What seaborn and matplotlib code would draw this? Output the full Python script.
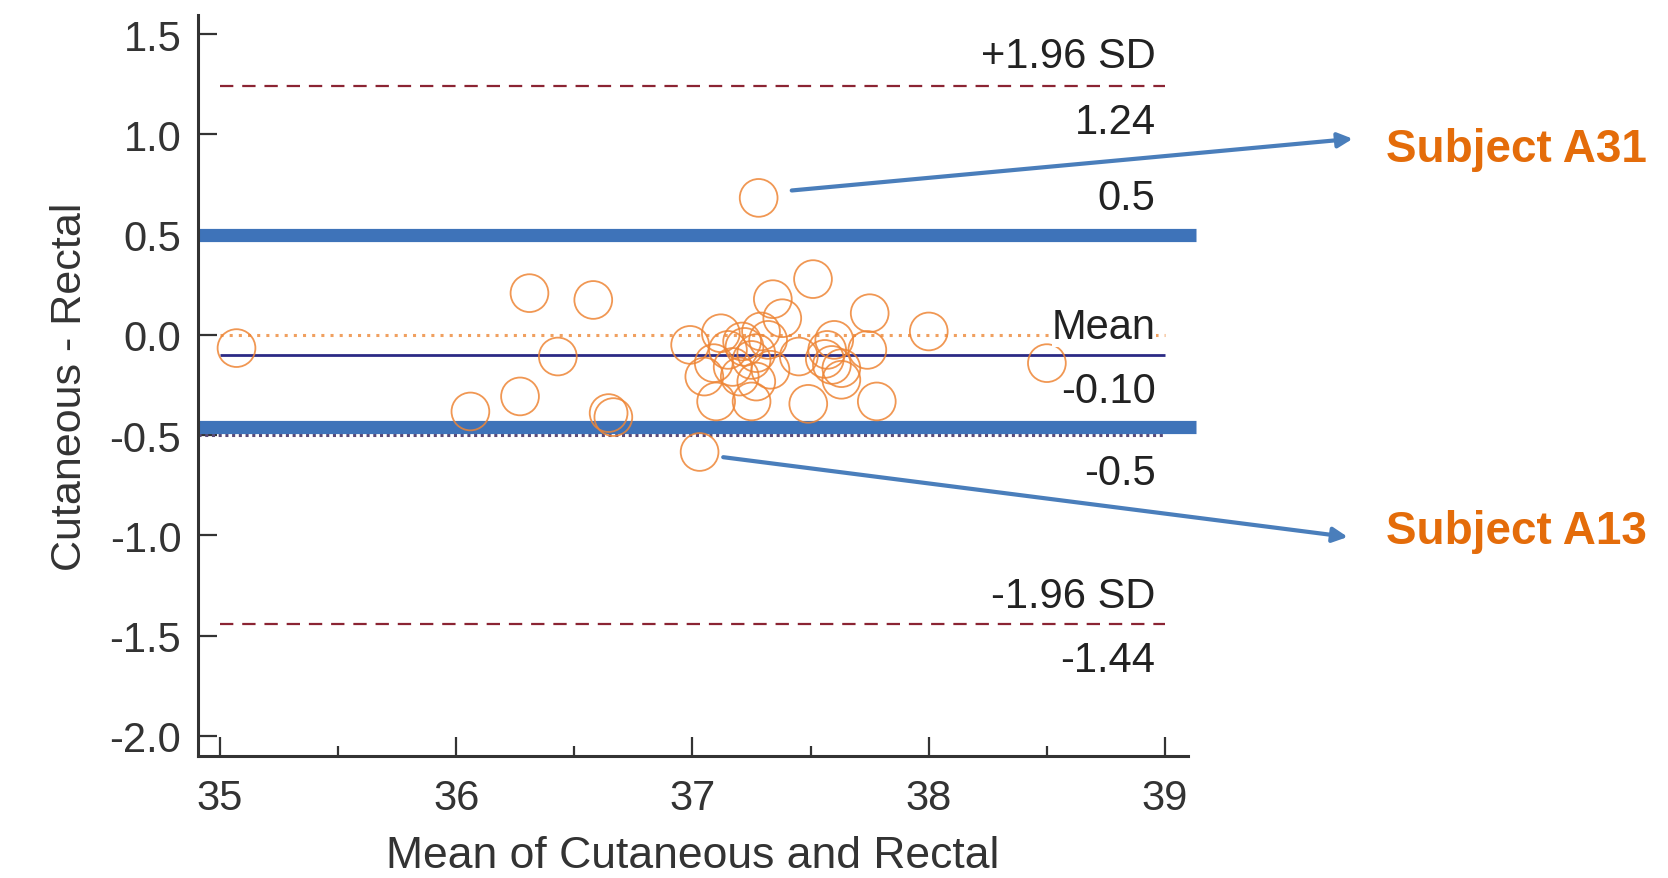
import numpy as np
import matplotlib
matplotlib.use("Agg")
import matplotlib.pyplot as plt
import seaborn as sns

# Bland-Altman data: mean of the two methods vs difference
mean_vals = [35.07, 36.06, 36.27, 36.31, 36.43, 36.58, 36.645, 36.665,
             36.99, 37.05, 37.09, 37.12, 37.15, 37.21, 37.29, 37.32,
             37.25, 37.27, 37.20, 37.27, 37.33, 37.10, 37.25, 37.49,
             37.78, 37.45, 37.57, 37.59, 37.63, 37.63, 37.74, 37.60,
             37.34, 37.38, 37.51, 37.75, 38.00, 38.50, 37.17, 37.22,
             37.56, 37.28, 37.03]
diff_vals = [-0.066, -0.382, -0.307, 0.208, -0.108, 0.174, -0.39, -0.41,
             -0.05, -0.208, -0.141, 0.008, -0.075, -0.033, 0.017, -0.025,
             -0.125, -0.091, -0.208, -0.233, -0.174, -0.332, -0.332, -0.344,
             -0.332, -0.108, -0.075, -0.150, -0.166, -0.224, -0.075, -0.025,
             0.178, 0.083, 0.278, 0.108, 0.017, -0.141, -0.16, -0.06,
             -0.12, 0.683, -0.584]

mean_diff = -0.10
upper_loa = 1.24
lower_loa = -1.44
limits = [0.5, -0.5]

# text labels next to the reference lines: (text, y position)
line_labels = [("+1.96 SD", 1.39), ("1.24", 1.06), ("0.5", 0.68),
               ("Mean", 0.04), ("-0.10", -0.28), ("-0.5", -0.69),
               ("-1.96 SD", -1.30), ("-1.44", -1.62)]

subjects = ["Subject A31", "Subject A13"]
subject_pts = [(37.42, 0.72), (37.13, -0.61)]
subject_arrow_end = [(0.811, 0.841), (0.808, 0.388)]
subject_text_pos = [(0.831, 0.829), (0.831, 0.395)]

sns.set_style("white")
plt.rcParams['font.family'] = ['Liberation Sans', 'DejaVu Sans']

fig = plt.figure(figsize=(16.68, 8.79), dpi=100)
ax = fig.add_axes([0.1187, 0.1388, 0.5935, 0.843])

# reference lines
ax.plot([35, 39], [upper_loa, upper_loa], color="#8B2433", lw=1.6, ls=(0, (6, 4)))
ax.plot([35, 39], [lower_loa, lower_loa], color="#8B2433", lw=1.6, ls=(0, (6, 4)))
ax.plot([34.907, 39], [limits[1], limits[1]], color="#5A4A78", lw=2.2, ls=(0, (1, 1.2)))
ax.axhline(limits[0], xmin=0, xmax=1.008, color="#3E73B9", lw=9.5,
           clip_on=False, solid_capstyle="butt")
ax.axhline(limits[1] + 0.04, xmin=0, xmax=1.008, color="#3E73B9", lw=9.5,
           clip_on=False, solid_capstyle="butt")
ax.plot([35, 39], [0, 0], color="#F0A060", lw=2.2, ls=(0, (1, 2)))
ax.plot([35, 39], [mean_diff, mean_diff], color="#2B2A85", lw=2.0,
        solid_capstyle="butt")

sns.scatterplot(x=mean_vals, y=diff_vals, ax=ax, s=740, marker="o",
                facecolor="none", edgecolor="#EE8535", linewidth=1.3,
                alpha=0.85, zorder=3)

for txt, yy in line_labels:
    kw = {}
    if txt == "Mean":
        kw = dict(bbox=dict(facecolor="white", edgecolor="none", pad=0))
    ax.text(38.96, yy, txt, ha="right", va="center", fontsize=30,
            color="#222222", zorder=4, **kw)

for name, pt, end, tpos in zip(subjects, subject_pts, subject_arrow_end, subject_text_pos):
    ax.annotate("", xy=end, xycoords="figure fraction", xytext=pt,
                textcoords="data",
                arrowprops=dict(arrowstyle="-|>", color="#4A7EBB", lw=3,
                                mutation_scale=22, shrinkA=0, shrinkB=0))
    fig.text(tpos[0], tpos[1], name, ha="left", va="center", fontsize=33,
             fontweight="bold", color="#E46C0A")

ax.set_xlim(34.907, 39.097)
ax.set_ylim(-2.1, 1.595)
ax.set_xticks([35, 36, 37, 38, 39])
ax.set_xticks([35.5, 36.5, 37.5, 38.5], minor=True)
ax.set_yticks([1.5, 1.0, 0.5, 0.0, -0.5, -1.0, -1.5, -2.0])
ax.set_yticklabels(["1.5", "1.0", "0.5", "0.0", "-0.5", "-1.0", "-1.5", "-2.0"])

ax.tick_params(axis="both", which="major", direction="in", length=14, width=1.6,
               labelsize=30, labelcolor="#333333", color="#333333",
               left=True, bottom=True)
ax.tick_params(axis="x", which="major", pad=16)
ax.tick_params(axis="y", which="major", pad=12)
ax.tick_params(axis="x", which="minor", direction="in", length=7, width=1.6,
               color="#333333", bottom=True)

sns.despine(ax=ax)
for side in ["left", "bottom"]:
    ax.spines[side].set_color("#333333")
    ax.spines[side].set_linewidth(2.2)

ax.set_xlabel("Mean of Cutaneous and Rectal", fontsize=32, color="#333333", labelpad=12)
ax.set_ylabel("Cutaneous - Rectal", fontsize=31, color="#333333", labelpad=14)

fig.savefig("out.png", dpi=100)
